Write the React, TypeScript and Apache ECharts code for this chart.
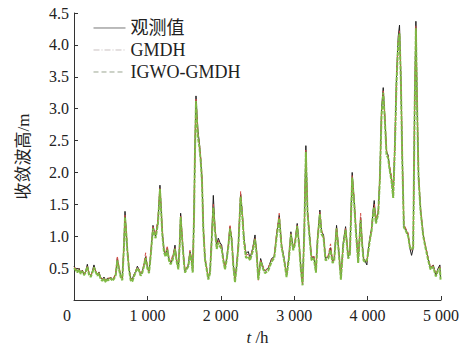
import React, { useEffect, useRef } from "react";
import * as echarts from "echarts";

const hours = [
  0, 23, 45, 68, 91, 114, 136, 159, 182, 204,
  227, 250, 272, 295, 318, 340, 363, 386, 409, 431,
  454, 477, 499, 522, 545, 568, 590, 613, 636, 658,
  681, 695, 713, 726, 749, 772, 795, 817, 840, 863,
  885, 908, 931, 953, 976, 999, 1022, 1044, 1076, 1099,
  1112, 1144, 1162, 1171, 1185, 1203, 1226, 1249, 1271, 1294,
  1317, 1344, 1376, 1399, 1422, 1440, 1453, 1467, 1481, 1499,
  1512, 1535, 1558, 1580, 1603, 1617, 1635, 1648, 1662, 1676,
  1689, 1708, 1726, 1744, 1762, 1785, 1807, 1830, 1853, 1875,
  1898, 1921, 1944, 1966, 1989, 2012, 2034, 2057, 2080, 2103,
  2125, 2148, 2171, 2193, 2216, 2239, 2270, 2298, 2316, 2343,
  2375, 2398, 2434, 2466, 2488, 2511, 2543, 2579, 2601, 2646,
  2692, 2728, 2760, 2796, 2828, 2864, 2896, 2928, 2955, 2987,
  3010, 3041, 3069, 3091, 3114, 3137, 3159, 3182, 3205, 3237,
  3268, 3296, 3318, 3350, 3373, 3400, 3427, 3464, 3495, 3523,
  3545, 3577, 3609, 3636, 3668, 3700, 3736, 3759, 3790, 3818,
  3840, 3872, 3905, 3925, 3945, 3963, 3990, 4010, 4030, 4054,
  4077, 4090, 4113, 4145, 4167, 4190, 4213, 4235, 4258, 4281,
  4295, 4326, 4349, 4372, 4394, 4417, 4435, 4453, 4472, 4494,
  4522, 4553, 4576, 4599, 4621, 4640, 4658, 4676, 4694, 4721,
  4758, 4785, 4826, 4857, 4894, 4930, 4962, 4985, 4994,
];

const observed = [
  0.53, 0.48, 0.45, 0.50, 0.42, 0.47, 0.40, 0.45, 0.56, 0.42,
  0.38, 0.45, 0.55, 0.45, 0.40, 0.44, 0.35, 0.32, 0.36, 0.30,
  0.34, 0.33, 0.36, 0.32, 0.35, 0.40, 0.65, 0.50, 0.38, 0.34,
  0.90, 1.39, 1.05, 0.80, 0.50, 0.34, 0.33, 0.40, 0.45, 0.53,
  0.48, 0.40, 0.45, 0.55, 0.68, 0.52, 0.45, 0.70, 1.17, 1.05,
  1.00, 1.25, 1.60, 1.80, 1.50, 1.07, 0.78, 0.70, 0.81, 0.65,
  0.58, 0.65, 0.86, 0.62, 0.50, 0.90, 1.36, 1.10, 0.86, 0.60,
  0.45, 0.50, 0.55, 0.76, 0.62, 0.45, 1.38, 2.40, 3.20, 2.90,
  2.65, 2.47, 2.21, 1.90, 1.12, 0.65, 0.50, 0.34, 0.45, 0.97,
  1.64, 1.12, 0.86, 0.97, 0.90, 0.86, 0.65, 0.50, 0.65, 0.86,
  1.15, 0.97, 0.55, 0.30, 0.55, 0.86, 1.67, 1.28, 0.97, 0.73,
  0.76, 0.65, 0.81, 1.02, 0.76, 0.34, 0.65, 0.50, 0.45, 0.50,
  0.65, 0.68, 1.02, 1.33, 0.86, 0.65, 0.39, 0.68, 1.07, 0.80,
  0.90, 1.20, 0.86, 0.50, 0.24, 1.12, 2.42, 1.38, 1.07, 0.65,
  0.68, 0.45, 0.97, 1.41, 1.07, 1.02, 0.65, 0.68, 0.82, 0.60,
  0.65, 1.17, 0.75, 0.34, 0.90, 1.15, 0.68, 0.75, 2.00, 1.54,
  1.12, 0.60, 1.30, 0.92, 0.65, 0.62, 0.55, 0.80, 0.97, 1.12,
  1.43, 1.56, 1.23, 1.38, 1.95, 2.99, 3.33, 2.87, 2.32, 2.27,
  2.11, 1.90, 1.64, 2.47, 3.51, 4.13, 4.31, 3.51, 2.27, 1.17,
  1.10, 1.02, 0.81, 0.70, 0.81, 2.99, 4.37, 2.99, 1.95, 1.43,
  1.02, 0.86, 0.65, 0.50, 0.55, 0.39, 0.50, 0.55, 0.34,
];

const gmdh = [
  0.51, 0.50, 0.44, 0.49, 0.44, 0.46, 0.41, 0.44, 0.53, 0.43,
  0.39, 0.44, 0.52, 0.46, 0.41, 0.43, 0.36, 0.33, 0.35, 0.31,
  0.35, 0.34, 0.35, 0.33, 0.36, 0.42, 0.69, 0.52, 0.40, 0.33,
  0.86, 1.33, 1.08, 0.82, 0.52, 0.36, 0.31, 0.39, 0.46, 0.51,
  0.49, 0.41, 0.46, 0.57, 0.74, 0.55, 0.44, 0.73, 1.15, 1.08,
  1.02, 1.28, 1.63, 1.76, 1.52, 1.10, 0.80, 0.74, 0.85, 0.66,
  0.60, 0.70, 0.82, 0.64, 0.52, 0.88, 1.33, 1.12, 0.88, 0.62,
  0.47, 0.52, 0.57, 0.78, 0.64, 0.47, 1.30, 2.35, 3.15, 2.88,
  2.60, 2.45, 2.25, 1.95, 1.18, 0.68, 0.52, 0.36, 0.44, 0.92,
  1.50, 1.15, 0.84, 0.93, 0.88, 0.83, 0.66, 0.52, 0.67, 0.88,
  1.18, 0.98, 0.57, 0.33, 0.56, 0.88, 1.70, 1.30, 0.95, 0.70,
  0.72, 0.66, 0.80, 0.98, 0.78, 0.31, 0.62, 0.52, 0.46, 0.51,
  0.63, 0.70, 1.05, 1.36, 0.88, 0.63, 0.40, 0.70, 1.04, 0.82,
  0.92, 1.17, 0.88, 0.52, 0.26, 1.05, 2.35, 1.42, 1.10, 0.67,
  0.70, 0.47, 0.95, 1.38, 1.10, 1.00, 0.66, 0.70, 0.88, 0.62,
  0.63, 1.14, 0.78, 0.36, 0.87, 1.12, 0.70, 0.77, 1.95, 1.58,
  1.15, 0.62, 1.36, 0.90, 0.67, 0.64, 0.60, 0.78, 0.95, 1.10,
  1.40, 1.50, 1.26, 1.40, 1.90, 2.92, 3.28, 2.90, 2.35, 2.24,
  2.15, 1.93, 1.68, 2.42, 3.45, 4.05, 4.22, 3.55, 2.32, 1.20,
  1.12, 1.05, 0.85, 0.78, 0.84, 2.92, 4.30, 3.02, 1.98, 1.45,
  1.04, 0.88, 0.66, 0.52, 0.54, 0.41, 0.49, 0.52, 0.36,
];

const igwoGmdh = [
  0.50, 0.47, 0.43, 0.48, 0.41, 0.45, 0.39, 0.43, 0.52, 0.40,
  0.36, 0.43, 0.51, 0.44, 0.38, 0.42, 0.33, 0.30, 0.34, 0.28,
  0.32, 0.31, 0.34, 0.30, 0.33, 0.39, 0.62, 0.48, 0.36, 0.31,
  0.84, 1.30, 1.03, 0.78, 0.48, 0.31, 0.29, 0.37, 0.43, 0.50,
  0.46, 0.38, 0.43, 0.53, 0.66, 0.50, 0.42, 0.68, 1.12, 1.01,
  0.97, 1.20, 1.55, 1.74, 1.45, 1.03, 0.75, 0.68, 0.79, 0.62,
  0.56, 0.63, 0.80, 0.60, 0.48, 0.86, 1.30, 1.06, 0.83, 0.57,
  0.43, 0.48, 0.53, 0.73, 0.60, 0.43, 1.28, 2.30, 3.12, 2.80,
  2.55, 2.40, 2.18, 1.85, 1.10, 0.63, 0.48, 0.32, 0.42, 0.90,
  1.45, 1.08, 0.80, 0.90, 0.84, 0.80, 0.62, 0.48, 0.63, 0.84,
  1.12, 0.94, 0.53, 0.28, 0.52, 0.83, 1.62, 1.24, 0.92, 0.66,
  0.68, 0.62, 0.76, 0.95, 0.72, 0.32, 0.60, 0.48, 0.42, 0.46,
  0.60, 0.66, 0.98, 1.28, 0.83, 0.61, 0.36, 0.65, 1.03, 0.78,
  0.87, 1.16, 0.83, 0.47, 0.23, 1.02, 2.32, 1.35, 1.04, 0.62,
  0.65, 0.43, 0.93, 1.35, 1.03, 0.98, 0.62, 0.65, 0.78, 0.58,
  0.62, 1.12, 0.72, 0.32, 0.86, 1.10, 0.65, 0.72, 1.92, 1.50,
  1.08, 0.58, 1.25, 0.88, 0.62, 0.60, 0.62, 0.76, 0.93, 1.08,
  1.38, 1.45, 1.20, 1.35, 1.88, 2.90, 3.25, 2.82, 2.28, 2.22,
  2.08, 1.86, 1.60, 2.40, 3.42, 4.02, 4.18, 3.46, 2.22, 1.14,
  1.08, 1.00, 0.83, 0.80, 0.82, 2.90, 4.26, 2.95, 1.92, 1.40,
  1.00, 0.84, 0.62, 0.48, 0.52, 0.37, 0.47, 0.50, 0.32,
];

const seriesNames = ["观测值", "GMDH", "IGWO-GMDH"];

const FONT = "'Liberation Serif', 'Times New Roman', 'Noto Sans CJK SC', serif";

export default function App() {
  const ref = useRef<HTMLDivElement>(null);
  useEffect(() => {
    if (!ref.current) return;
    const chart = echarts.init(ref.current, null, { renderer: "svg" });
    const pairs = (vals: number[]) => hours.map((h, i) => [h, vals[i]]);
    chart.setOption({
      animation: false,
      backgroundColor: "#ffffff",
      grid: { left: 74, right: 32, top: 13, bottom: 49, containLabel: false },
      legend: {
        orient: "vertical",
        left: 88,
        top: 14,
        itemWidth: 32,
        itemHeight: 10,
        itemGap: 4,
        textStyle: { fontFamily: FONT, fontSize: 18, color: "#222" },
        data: [
          {
            name: seriesNames[0],
            itemStyle: { opacity: 0 },
            lineStyle: { color: "#777", width: 1, type: "solid" },
          },
          {
            name: seriesNames[1],
            itemStyle: { opacity: 0 },
            lineStyle: { color: "#c9c0c0", width: 1, type: [6, 2, 1, 2] },
          },
          {
            name: seriesNames[2],
            itemStyle: { opacity: 0 },
            lineStyle: { color: "#9aa590", width: 1, type: [5, 3] },
          },
        ],
      },
      xAxis: {
        type: "value",
        min: 0,
        max: 5000,
        interval: 1000,
        name: "{i|t} /h",
        nameLocation: "middle",
        nameGap: 29,
        nameTextStyle: {
          fontFamily: FONT,
          fontSize: 17,
          color: "#222",
          rich: { i: { fontFamily: FONT, fontSize: 17, fontStyle: "italic", color: "#222" } },
        },
        axisLine: { lineStyle: { color: "#333", width: 1 } },
        axisTick: { inside: true, length: 4, lineStyle: { color: "#333" } },
        splitLine: { show: false },
        axisLabel: {
          fontFamily: FONT,
          fontSize: 16,
          color: "#222",
          margin: 7,
          formatter: (v: number) => {
            if (v === 0) return "{z|0}";
            const s = String(v);
            return s.slice(0, s.length - 3) + " " + s.slice(-3);
          },
          rich: { z: { fontFamily: FONT, fontSize: 16, color: "#222", padding: [0, 14, 0, 0] } },
        },
      },
      yAxis: {
        type: "value",
        min: 0,
        max: 4.5,
        interval: 0.5,
        name: "收敛波高/m",
        nameLocation: "middle",
        nameRotate: 90,
        nameGap: 42,
        nameTextStyle: { fontFamily: FONT, fontSize: 17, color: "#222" },
        axisLine: { show: true, lineStyle: { color: "#333", width: 1 } },
        axisTick: { show: true, inside: true, length: 4, lineStyle: { color: "#333" } },
        splitLine: { show: false },
        axisLabel: {
          fontFamily: FONT,
          fontSize: 16,
          color: "#222",
          margin: 5,
          showMinLabel: false,
          formatter: (v: number) => (v === 0 ? "" : v.toFixed(1)),
        },
      },
      series: [
        {
          name: seriesNames[0],
          type: "line",
          data: pairs(observed),
          showSymbol: false,
          symbol: "none",
          lineStyle: { color: "#1e1e1e", width: 1 },
          itemStyle: { color: "#777" },
        },
        {
          name: seriesNames[1],
          type: "line",
          data: pairs(gmdh),
          showSymbol: false,
          symbol: "none",
          lineStyle: { color: "#d4504a", width: 1, type: [4, 2] },
          itemStyle: { color: "#c9c0c0" },
        },
        {
          name: seriesNames[2],
          type: "line",
          data: pairs(igwoGmdh),
          showSymbol: false,
          symbol: "none",
          lineStyle: { color: "#7fba45", width: 2, type: [4, 1] },
          itemStyle: { color: "#9aa590" },
        },
      ],
    });
    return () => chart.dispose();
  }, []);
  return (
    <div
      ref={ref}
      style={{ position: "absolute", left: 0, top: 0, width: 473, height: 351 }}
    />
  );
}
